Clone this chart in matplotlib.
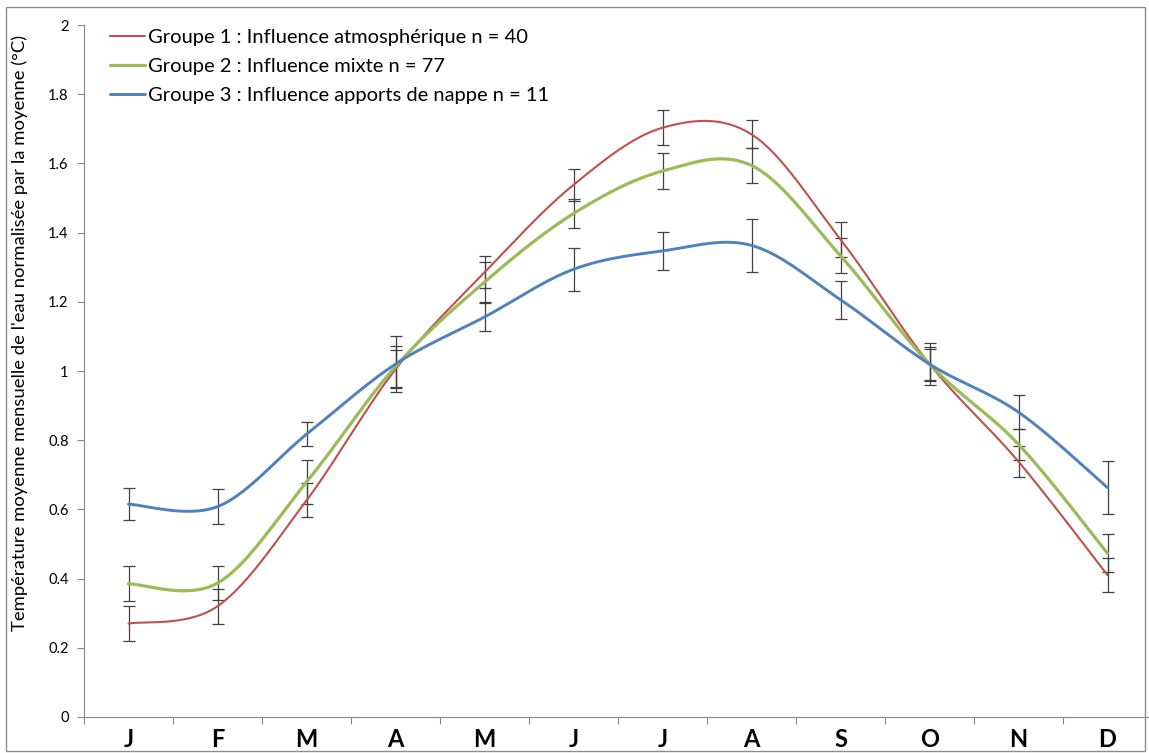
import numpy as np
import matplotlib
matplotlib.use("Agg")
import matplotlib.pyplot as plt
from matplotlib.patches import Rectangle

plt.rcParams['font.family'] = ['Lato', 'DejaVu Sans']

months = ["J", "F", "M", "A", "M", "J", "J", "A", "S", "O", "N", "D"]

labels = [
    "Groupe 1 : Influence atmosphérique n = 40",
    "Groupe 2 : Influence mixte n = 77",
    "Groupe 3 : Influence apports de nappe n = 11",
]

g1_mean = [0.27, 0.32, 0.626, 1.005, 1.285, 1.538, 1.703, 1.684, 1.38, 1.02, 0.738, 0.41]
g1_err = [0.05, 0.05, 0.049, 0.055, 0.046, 0.046, 0.05, 0.04, 0.05, 0.05, 0.045, 0.05]

g2_mean = [0.385, 0.387, 0.679, 1.013, 1.257, 1.455, 1.578, 1.594, 1.333, 1.02, 0.788, 0.473]
g2_err = [0.05, 0.05, 0.064, 0.06, 0.057, 0.043, 0.051, 0.05, 0.05, 0.045, 0.045, 0.055]

g3_mean = [0.615, 0.608, 0.817, 1.02, 1.156, 1.294, 1.347, 1.363, 1.206, 1.02, 0.881, 0.663]
g3_err = [0.047, 0.05, 0.035, 0.08, 0.04, 0.062, 0.056, 0.077, 0.055, 0.06, 0.05, 0.076]

colors = ["#C0504D", "#9BBB59", "#4F81BD"]
widths = [1.5, 2.3, 2.1]


def smooth(x, y, n=40):
    """Cubic Bezier smoothing through every point (Catmull-Rom tangents)."""
    x = np.asarray(x, float)
    y = np.asarray(y, float)
    px = np.concatenate([[x[0]], x, [x[-1]]])
    py = np.concatenate([[y[0]], y, [y[-1]]])
    t = np.linspace(0, 1, n)[:, None]
    xs, ys = [], []
    for i in range(1, len(x)):
        p0 = np.array([px[i - 1], py[i - 1]])
        p1 = np.array([px[i], py[i]])
        p2 = np.array([px[i + 1], py[i + 1]])
        p3 = np.array([px[i + 2], py[i + 2]])
        c1 = p1 + (p2 - p0) / 6.0
        c2 = p2 - (p3 - p1) / 6.0
        b = ((1 - t) ** 3) * p1 + 3 * ((1 - t) ** 2) * t * c1 + 3 * (1 - t) * t ** 2 * c2 + t ** 3 * p2
        xs.append(b[:, 0])
        ys.append(b[:, 1])
    return np.concatenate(xs), np.concatenate(ys)


W, H = 1149, 753
fig = plt.figure(figsize=(W / 100, H / 100), dpi=100)
ax = fig.add_axes([84 / W, (H - 717) / H, 1068 / W, 692 / H])

x = np.arange(len(months))
series = [(g1_mean, g1_err), (g2_mean, g2_err), (g3_mean, g3_err)]
for (m, e), c, lw, lab in zip(series, colors, widths, labels):
    ax.errorbar(x, m, yerr=e, fmt="none", ecolor="#404040", elinewidth=0.9,
                capsize=4, capthick=0.9, zorder=2)
    sx, sy = smooth(x, m)
    ax.plot(sx, sy, color=c, lw=lw, label=lab, zorder=3, solid_capstyle="round")

ax.set_xlim(-0.5, len(months) - 0.5)
ax.set_ylim(0, 2)

yt = np.round(np.arange(0, 2.01, 0.2), 1)
ax.set_yticks(yt)
ax.set_yticklabels([f"{v:g}" for v in yt], fontsize=10.5)

ax.set_xticks(np.arange(-0.5, len(months), 1.0))
ax.set_xticklabels([])
ax.set_xticks(x, minor=True)
ax.set_xticklabels(months, minor=True, fontsize=17, fontweight="bold")
ax.tick_params(axis="x", which="major", direction="out", length=5, color="#868686", width=0.8)
ax.tick_params(axis="x", which="minor", length=0, pad=8)
ax.tick_params(axis="y", direction="out", length=5, color="#868686", width=0.8, pad=6)

for s in ["top", "right"]:
    ax.spines[s].set_visible(False)
for s in ["left", "bottom"]:
    ax.spines[s].set_color("#868686")
    ax.spines[s].set_linewidth(0.8)

fig.text(20 / W, 1 - 333 / H,
         "Température moyenne mensuelle de l'eau normalisée par la moyenne (°C)",
         rotation=90, ha="center", va="center", fontsize=13.3)

ax.legend(loc="upper left", bbox_to_anchor=(110 / W, 1 - 29 / H),
          bbox_transform=fig.transFigure, frameon=False, fontsize=14.5,
          handlelength=1.75, handletextpad=0.15, labelspacing=0.6,
          borderaxespad=0, borderpad=0)

fig.patches.append(Rectangle((6 / W, 2 / H), (W - 10) / W, (H - 9) / H,
                             transform=fig.transFigure, fill=False,
                             edgecolor="#8c8c8c", lw=1.0))

fig.savefig("out.png", dpi=100)
